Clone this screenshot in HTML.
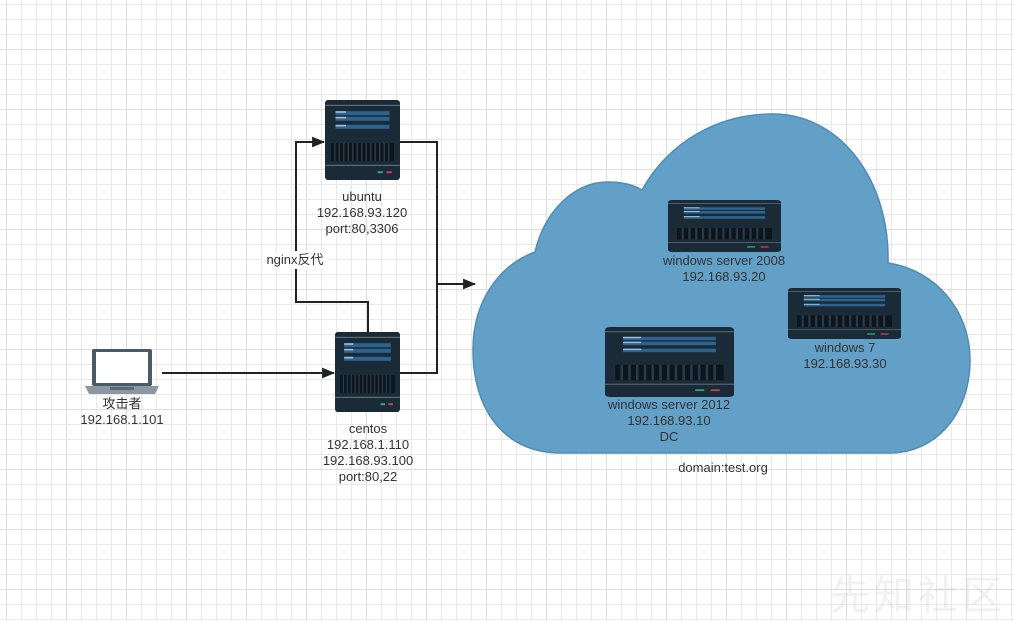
<!DOCTYPE html>
<html><head><meta charset="utf-8"><style>
html,body{margin:0;padding:0}
body{width:1014px;height:620px;position:relative;overflow:hidden;background:#fff;
background-image:linear-gradient(#dedede 1px,transparent 1px),linear-gradient(90deg,#dedede 1px,transparent 1px),linear-gradient(#e9e9e9 1px,transparent 1px),linear-gradient(90deg,#e9e9e9 1px,transparent 1px);
background-size:60px 60px,60px 60px,15px 15px,15px 15px;
background-position:0 49px,6px 0,0 4px,6px 0;
font-family:"Liberation Sans","Noto Sans CJK SC",sans-serif;}
.t{position:absolute;font-size:13px;color:#333;text-align:center;line-height:16px;white-space:nowrap;transform:translateX(-50%)}
svg{position:absolute;left:0;top:0}
</style></head><body>
<svg width="1014" height="620" viewBox="0 0 1014 620">
<defs>
<symbol id="srv" viewBox="0 0 100 100" preserveAspectRatio="none">
<rect x="0" y="0" width="100" height="100" rx="4" fill="#1b2a37"/>
<rect x="0" y="6" width="100" height="1.5" fill="#5a6b7a"/>
<rect x="14" y="14" width="72" height="5" fill="#2e6390"/>
<rect x="14" y="21" width="72" height="5" fill="#2e6390"/>
<rect x="14" y="31" width="72" height="5" fill="#2e6390"/>
<rect x="14" y="14" width="14" height="2" fill="#9cc0dc"/>
<rect x="14" y="21" width="14" height="2" fill="#9cc0dc"/>
<rect x="14" y="31" width="14" height="2" fill="#9cc0dc"/>
<rect x="8" y="54" width="84" height="22" fill="#0c141c"/>
<g fill="#2a3a48"><rect x="12" y="54" width="2" height="22"/><rect x="18" y="54" width="2" height="22"/><rect x="24" y="54" width="2" height="22"/><rect x="30" y="54" width="2" height="22"/><rect x="36" y="54" width="2" height="22"/><rect x="42" y="54" width="2" height="22"/><rect x="48" y="54" width="2" height="22"/><rect x="54" y="54" width="2" height="22"/><rect x="60" y="54" width="2" height="22"/><rect x="66" y="54" width="2" height="22"/><rect x="72" y="54" width="2" height="22"/><rect x="78" y="54" width="2" height="22"/><rect x="84" y="54" width="2" height="22"/></g>
<rect x="0" y="81" width="100" height="1.5" fill="#5a6b7a"/>
<rect x="70" y="89" width="7" height="2.5" fill="#2fae6a"/>
<rect x="82" y="89" width="7" height="2.5" fill="#d0405a"/>
</symbol>
<marker id="ar" viewBox="0 0 12 10" refX="11" refY="5" markerWidth="13" markerHeight="11" orient="auto" markerUnits="userSpaceOnUse"><path d="M0 0 L12 5 L0 10 Z" fill="#222"/></marker>
</defs>
<path d="M560 453 C505 453 473 410 473 350 C473 300 500 265 535 252 C545 210 575 182 607 182 C622 182 634 185 642 190 C670 140 720 114 773 114 C840 114 890 180 888 263 C935 270 970 310 970 360 C970 415 935 453 890 453 Z" fill="#63a0c7" stroke="#4f8bb4" stroke-width="1.5"/>
<g fill="none" stroke="#222" stroke-width="2">
<path d="M162 373 H334" marker-end="url(#ar)"/>
<path d="M368 332 V302 H296 V142 H324" marker-end="url(#ar)"/>
<path d="M400 142 H437 V373 H400"/>
<path d="M437 284 H475" marker-end="url(#ar)"/>
</g>
<use href="#srv" x="325" y="100" width="75" height="80"/>
<use href="#srv" x="335" y="332" width="65" height="80"/>
<use href="#srv" x="668" y="200" width="113" height="52"/>
<use href="#srv" x="788" y="288" width="113" height="51"/>
<use href="#srv" x="605" y="327" width="129" height="70"/>
<rect x="92" y="349" width="60" height="37" rx="2" fill="#4a5a68"/>
<rect x="96" y="352" width="52" height="31" fill="#fff"/>
<path d="M85 386 H159 L155 394 H89 Z" fill="#8a98a4"/>
<rect x="110" y="387" width="24" height="3" fill="#5a6a78"/>
<rect x="262" y="251" width="66" height="18" fill="#fff"/>
</svg>
<div class="t" style="left:295px;top:252px">nginx反代</div>
<div class="t" style="left:362px;top:189px">ubuntu<br>192.168.93.120<br>port:80,3306</div>
<div class="t" style="left:368px;top:421px">centos<br>192.168.1.110<br>192.168.93.100<br>port:80,22</div>
<div class="t" style="left:122px;top:396px">攻击者<br>192.168.1.101</div>
<div class="t" style="left:724px;top:253px">windows server 2008<br>192.168.93.20</div>
<div class="t" style="left:845px;top:340px">windows 7<br>192.168.93.30</div>
<div class="t" style="left:669px;top:397px">windows server 2012<br>192.168.93.10<br>DC</div>
<div class="t" style="left:723px;top:460px">domain:test.org</div>
<div style="position:absolute;left:830px;top:563px;font-size:40px;color:rgba(200,200,200,0.25);letter-spacing:4px;font-family:'Noto Sans CJK SC',sans-serif">先知社区</div>
</body></html>
